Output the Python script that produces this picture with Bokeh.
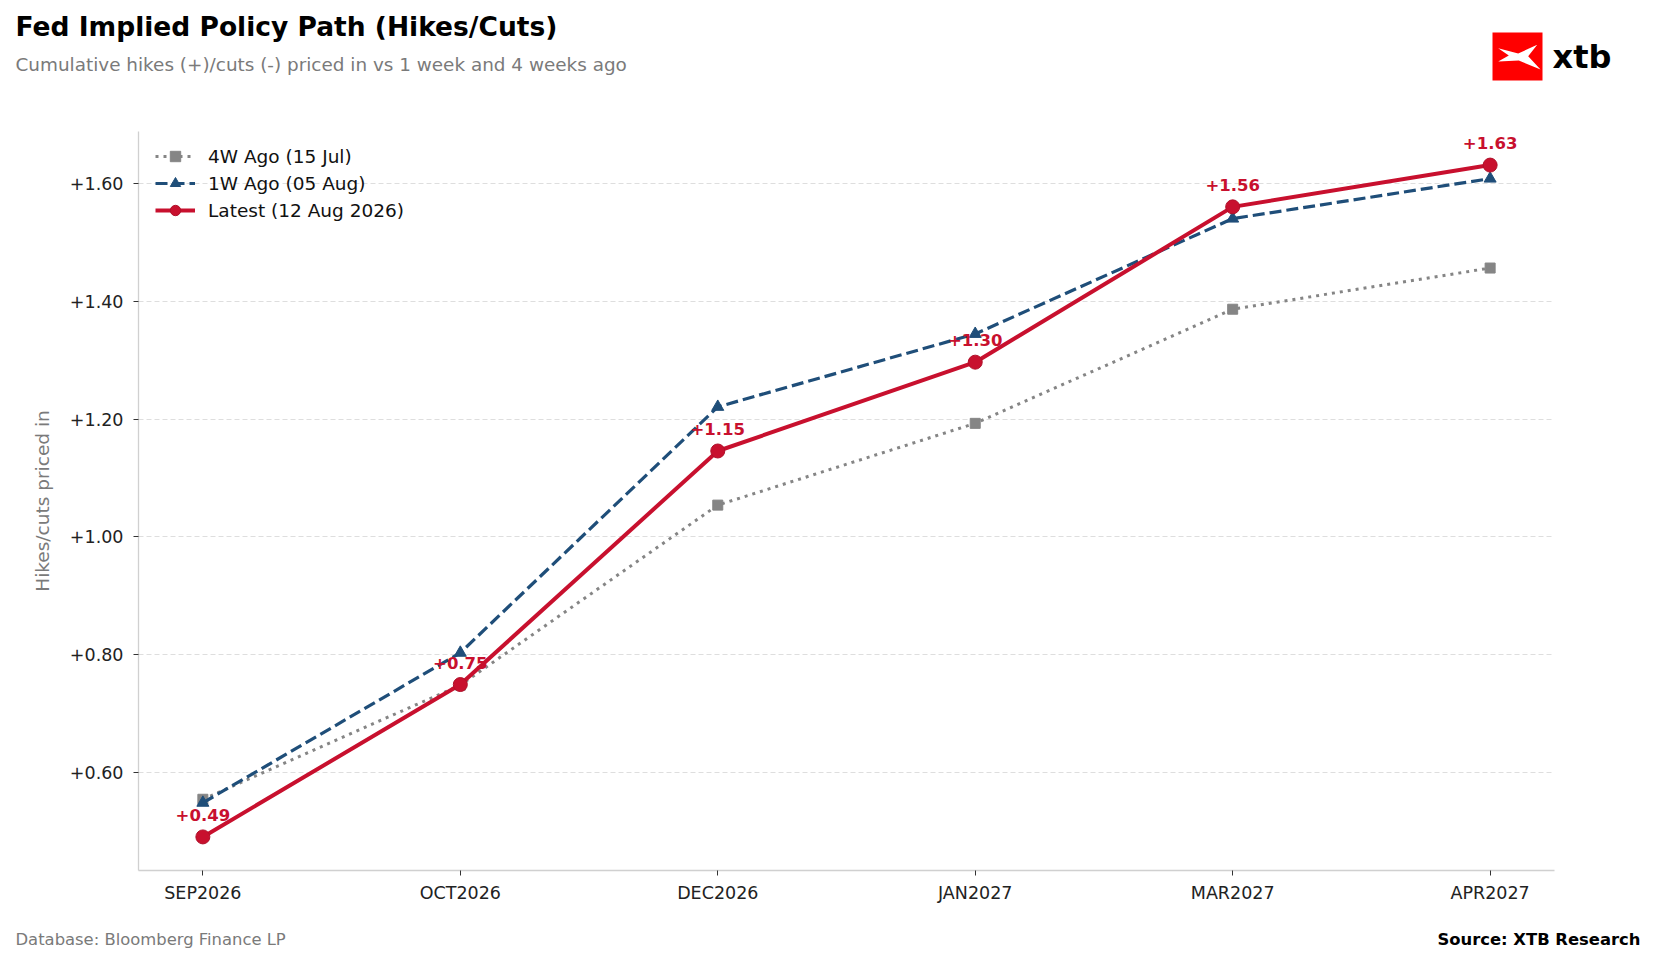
"""
Fed implied policy path: cumulative hikes/cuts priced in, now vs 1 and 4 weeks ago
"""
from bokeh.plotting import figure
from bokeh.layouts import column
from bokeh.models import (ColumnDataSource, Range1d, FixedTicker, CustomJSTickFormatter,
                          Legend, LegendItem)
from bokeh.core.properties import value
from bokeh.embed import file_html
from bokeh.resources import INLINE

# data
months = ["SEP2026", "OCT2026", "DEC2026", "JAN2027", "MAR2027", "APR2027"]
week4_ago = [0.554, 0.748, 1.054, 1.193, 1.387, 1.457]
week1_ago = [0.548, 0.803, 1.221, 1.345, 1.541, 1.609]
latest = [0.490, 0.749, 1.146, 1.297, 1.561, 1.632]
y_ticks = [0.6, 0.8, 1.0, 1.2, 1.4, 1.6]

FONT = "DejaVu Sans"
RED = "#C8102E"
BLUE = "#1F4E79"
GRAY = "#858585"
W = 1655
HEAD_H, MAIN_H, FOOT_H = 110, 800, 52


def blank(height):
    # a figure whose frame is the whole canvas, data coords = pixels (y down)
    f = figure(width=W, height=height, output_backend="svg", toolbar_location=None,
               x_range=Range1d(0, W), y_range=Range1d(height, 0),
               x_axis_location=None, y_axis_location=None,
               min_border=0, frame_align=False)
    f.outline_line_color = None
    f.grid.visible = False
    return f


# header: title, subtitle, logo
head = blank(HEAD_H)
head.text([15], [26], text=["Fed Implied Policy Path (Hikes/Cuts)"], text_font=value(FONT),
          text_font_style="bold", text_font_size="26.5px", text_color="#000000",
          text_baseline="alphabetic")
head.text([15], [64], text=["Cumulative hikes (+)/cuts (-) priced in vs 1 week and 4 weeks ago"],
          text_font=value(FONT), text_font_size="18.4px", text_color="#7a7a7a",
          text_baseline="alphabetic")
head.quad(left=[1492], right=[1542], top=[32], bottom=[80], fill_color="#FF0000",
          line_color=None)
head.patch([1497.7, 1517.7, 1536.7, 1527.7, 1540.0, 1518.3, 1497.7, 1508.3],
           [47.7, 53.0, 44.3, 55.7, 69.0, 60.0, 61.0, 55.0],
           fill_color="white", line_color=None)
head.text([1552], [56], text=["xtb"], text_font=value(FONT), text_font_style="bold",
          text_font_size="32px", text_color="#000000", text_baseline="alphabetic")

# main chart
src = ColumnDataSource(dict(
    x=list(range(len(months))),
    w4=week4_ago,
    w1=week1_ago,
    now=latest,
    lbl=[f"{v:+.2f}" for v in latest],
))

all_vals = week4_ago + week1_ago + latest
pad = (max(all_vals) - min(all_vals)) * 0.05

p = figure(width=W, height=MAIN_H, output_backend="svg", toolbar_location=None,
           x_range=Range1d(-0.25, len(months) - 0.75),
           y_range=Range1d(min(all_vals) - pad, max(all_vals) + pad),
           min_border_left=138, min_border_right=101, min_border_top=21, min_border_bottom=40,
           frame_align=False)
p.outline_line_color = None

r4_line = p.line("x", "w4", source=src, line_color=GRAY, line_width=3, line_dash="3 5")
r4_mark = p.scatter("x", "w4", source=src, marker="square", size=10,
                    fill_color=GRAY, line_color=GRAY)
r1_line = p.line("x", "w1", source=src, line_color=BLUE, line_width=3.2, line_dash="12 5")
r1_mark = p.scatter("x", "w1", source=src, marker="triangle", size=12,
                    fill_color=BLUE, line_color=BLUE)
rn_line = p.line("x", "now", source=src, line_color=RED, line_width=4)
rn_mark = p.scatter("x", "now", source=src, marker="circle", size=14,
                    fill_color=RED, line_color="#B0102A", line_width=1)

p.text("x", "now", text="lbl", source=src, text_align="center", text_baseline="middle",
       y_offset=-22, text_color=RED, text_font=value(FONT), text_font_style="bold",
       text_font_size="16.5px")

p.xaxis.ticker = FixedTicker(ticks=list(range(len(months))))
p.xaxis.major_label_overrides = {i: m for i, m in enumerate(months)}
p.yaxis.ticker = FixedTicker(ticks=y_ticks)
p.yaxis.formatter = CustomJSTickFormatter(code="return (tick >= 0 ? '+' : '') + tick.toFixed(2);")
p.ygrid.ticker = FixedTicker(ticks=y_ticks)
p.xgrid.grid_line_color = None
p.ygrid.grid_line_color = "#dedede"
p.ygrid.grid_line_dash = "5 3"
p.ygrid.grid_line_width = 1.2

for ax in (p.xaxis[0], p.yaxis[0]):
    ax.axis_line_color = "#d0d0d0"
    ax.axis_line_width = 1.3
    ax.major_tick_line_color = "#333333"
    ax.major_tick_in = 0
    ax.major_tick_out = 5
    ax.minor_tick_line_color = None
    ax.major_label_text_font = FONT
    ax.major_label_text_font_size = "17.5px"
    ax.major_label_text_color = "#222222"
p.xaxis.major_label_standoff = 7
p.yaxis.major_label_standoff = 10
p.yaxis.axis_label = "Hikes/cuts priced in"
p.yaxis.axis_label_text_font = FONT
p.yaxis.axis_label_text_font_style = "normal"
p.yaxis.axis_label_text_font_size = "18.5px"
p.yaxis.axis_label_text_color = "#7a7a7a"
p.yaxis.axis_label_standoff = 14

legend = Legend(items=[
    LegendItem(label="4W Ago (15 Jul)", renderers=[r4_line, r4_mark]),
    LegendItem(label="1W Ago (05 Aug)", renderers=[r1_line, r1_mark]),
    LegendItem(label="Latest (12 Aug 2026)", renderers=[rn_line, rn_mark]),
], location=(17, 647), glyph_width=40, glyph_height=26, label_height=26, spacing=1,
    padding=0, margin=0, label_standoff=13, label_text_font=FONT,
    label_text_font_size="18.5px", label_text_color="#111111",
    border_line_color=None, background_fill_alpha=0)
p.add_layout(legend)

# footer
foot = blank(FOOT_H)
foot.text([15], [29], text=["Database: Bloomberg Finance LP"], text_font=value(FONT),
          text_font_size="16.4px", text_color="#7a7a7a", text_baseline="alphabetic")
foot.text([1640], [29], text=["Source: XTB Research"], text_font=value(FONT),
          text_font_style="bold", text_font_size="16.4px", text_color="#000000",
          text_align="right", text_baseline="alphabetic")

page = column(head, p, foot, spacing=0)
open("out.html", "w").write(file_html(page, INLINE))
